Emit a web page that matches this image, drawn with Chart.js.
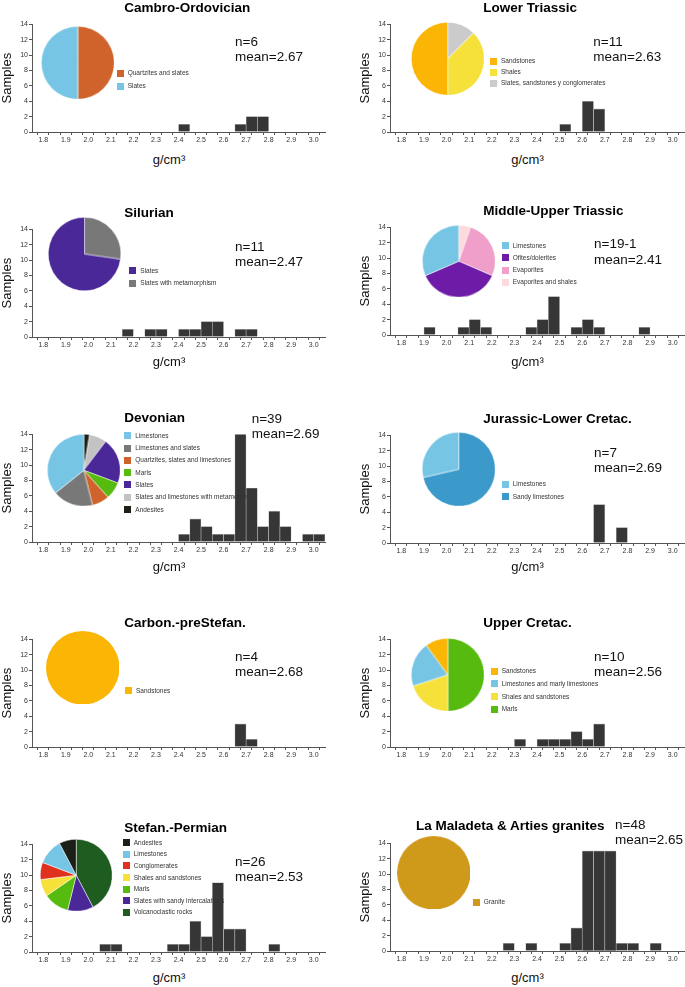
<!DOCTYPE html>
<html>
<head>
<meta charset="utf-8">
<script src="https://cdn.jsdelivr.net/npm/chart.js@4"></script>
<style>
  body { margin: 0; background: #fff; font-family: "Liberation Sans", Arial, sans-serif; }
  #fig { position: relative; width: 685px; height: 987px; overflow: hidden; }
  .abs { position: absolute; }
  .title { font-weight: bold; font-size: 13.5px; line-height: 16px; color: #000; white-space: nowrap; }
  .stats { font-size: 13.5px; line-height: 15.6px; color: #111; white-space: nowrap; }
  .xtitle { font-size: 13px; line-height: 16px; width: 80px; text-align: center; color: #111; }
  .leg { position: absolute; height: 8px; font-size: 6.5px; line-height: 8px; color: #333; white-space: nowrap; }
  .leg i { position: absolute; left: 0; top: 0.5px; width: 7px; height: 7px; }
  .leg span { position: absolute; left: 11px; top: 0; }
</style>
</head>
<body>
<div id="fig"></div>
<script>
// density bins (g/cm3), 0.05 wide
const binEdges = [1.75, 1.80, 1.85, 1.90, 1.95, 2.00, 2.05, 2.10, 2.15, 2.20, 2.25, 2.30, 2.35, 2.40,
                  2.45, 2.50, 2.55, 2.60, 2.65, 2.70, 2.75, 2.80, 2.85, 2.90, 2.95, 3.00, 3.05];
const tickLabels = ['1.8', '1.9', '2.0', '2.1', '2.2', '2.3', '2.4', '2.5', '2.6', '2.7', '2.8', '2.9', '3.0'];

// samples per bin (one count per bin above)
const cambroCounts      = [0,0,0,0,0, 0,0,0,0,0, 0,0,0,1,0, 0,0,0,1,2, 2,0,0,0,0, 0];
const lowerTriasCounts  = [0,0,0,0,0, 0,0,0,0,0, 0,0,0,0,0, 1,0,4,3,0, 0,0,0,0,0, 0];
const silurianCounts    = [0,0,0,0,0, 0,0,0,1,0, 1,1,0,1,1, 2,2,0,1,1, 0,0,0,0,0, 0];
const midUpTriasCounts  = [0,0,0,1,0, 0,1,2,1,0, 0,0,1,2,5, 0,1,2,1,0, 0,0,1,0,0, 0];
const devonianCounts    = [0,0,0,0,0, 0,0,0,0,0, 0,0,0,1,3, 2,1,1,14,7, 2,4,2,0,1, 1];
const jurassicCounts    = [0,0,0,0,0, 0,0,0,0,0, 0,0,0,0,0, 0,0,0,5,0, 2,0,0,0,0, 0];
const carbonCounts      = [0,0,0,0,0, 0,0,0,0,0, 0,0,0,0,0, 0,0,0,3,1, 0,0,0,0,0, 0];
const upCretacCounts    = [0,0,0,0,0, 0,0,0,0,0, 0,1,0,1,1, 1,2,1,3,0, 0,0,0,0,0, 0];
const stefanCounts      = [0,0,0,0,0, 0,1,1,0,0, 0,0,1,1,4, 2,9,3,3,0, 0,1,0,0,0, 0];
const maladetaCounts    = [0,0,0,0,0, 0,0,0,0,0, 1,0,1,0,0, 1,3,13,13,13, 1,1,0,1,0, 0];

// lithologies (pie slices, legend order)
const cambroRocks = ['Quartzites and slates', 'Slates'];
const cambroRockN = [3, 3];
const lowerTriasRocks = ['Sandstones', 'Shales', 'Slates, sandstones y conglomerates'];
const lowerTriasRockN = [4, 3, 1];
const silurianRocks = ['Slates', 'Slates with metamorphism'];
const silurianRockN = [8, 3];
const midUpTriasRocks = ['Limestones', 'Ofites/dolerites', 'Evaporites', 'Evaporites and shales'];
const midUpTriasRockN = [6, 7, 5, 1];
const devonianRocks = ['Limestones', 'Limestones and slates', 'Quartzites, slates and limestones', 'Marls',
                       'Slates', 'Slates and limestones with metamorph.', 'Andesites'];
const devonianRockN = [14, 7, 3, 3, 8, 3, 1];
const jurassicRocks = ['Limestones', 'Sandy limestones'];
const jurassicRockN = [2, 5];
const carbonRocks = ['Sandstones'];
const carbonRockN = [4];
const upCretacRocks = ['Sandstones', 'Limestones and marly limestones', 'Shales and sandstones', 'Marls'];
const upCretacRockN = [1, 2, 2, 5];
const stefanRocks = ['Andesites', 'Limestones', 'Conglomerates', 'Shales and sandstones', 'Marls',
                     'Slates with sandy intercalations', 'Volcanoclastic rocks'];
const stefanRockN = [2, 3, 2, 2, 3, 3, 11];
const maladetaRocks = ['Granite'];
const maladetaRockN = [48];

const panelTitles = ['Cambro-Ordovician', 'Lower Triassic', 'Silurian', 'Middle-Upper Triassic', 'Devonian',
                     'Jurassic-Lower Cretac.', 'Carbon.-preStefan.', 'Upper Cretac.', 'Stefan.-Permian',
                     'La Maladeta & Arties granites'];
const sampleSizes = ['6', '11', '11', '19-1', '39', '7', '4', '10', '26', '48'];
const meanDensity = ['2.67', '2.63', '2.47', '2.41', '2.69', '2.69', '2.68', '2.56', '2.53', '2.65'];

// colours
const C = {
  orange: '#d0632b', sky: '#76c5e5', amber: '#fab505', yellow: '#f5e13a', silver: '#cbcbcb',
  indigo: '#4a2898', grey: '#787878', violet: '#6e1ca8', pink: '#ef9fc9', blush: '#fddadd',
  green: '#56bb0e', black: '#1a1f17', blue: '#3b9ac9', red: '#e0301e', forest: '#1f5c1f', gold: '#cf9a1a'
};

const panels = [
  { counts: cambroCounts, rocks: cambroRocks, rockN: cambroRockN, colors: [C.orange, C.sky], cw: true,
    col: 0, top: 24, title: [124.3, 8.3], stats: [235, 41.7], pie: [77.3, 62.7, 36], leg: [116.7, 73, 13.3], xt: 160 },
  { counts: lowerTriasCounts, rocks: lowerTriasRocks, rockN: lowerTriasRockN, colors: [C.amber, C.yellow, C.silver],
    col: 1, top: 24, title: [483.3, 8.3], stats: [593.3, 41.7], pie: [447.3, 58.3, 36.5], leg: [490, 61, 11.2], xt: 160 },
  { counts: silurianCounts, rocks: silurianRocks, rockN: silurianRockN, colors: [C.indigo, C.grey],
    col: 0, top: 229, title: [124.3, 213.3], stats: [235, 246.7], pie: [84.3, 254, 36.3], leg: [129.3, 270.7, 12.7], xt: 362 },
  { counts: midUpTriasCounts, rocks: midUpTriasRocks, rockN: midUpTriasRockN, colors: [C.sky, C.violet, C.pink, C.blush],
    col: 1, top: 227, title: [483.3, 210.7], stats: [594, 244], pie: [458.3, 261, 36], leg: [501.7, 245.7, 12.2], xt: 362 },
  { counts: devonianCounts, rocks: devonianRocks, rockN: devonianRockN,
    colors: [C.sky, C.grey, C.orange, C.green, C.indigo, '#c3c3c3', C.black],
    col: 0, top: 434, title: [124.3, 418.3], stats: [251.7, 418.3], pie: [83.3, 470, 36], leg: [124.3, 435.7, 12.3], xt: 567 },
  { counts: jurassicCounts, rocks: jurassicRocks, rockN: jurassicRockN, colors: [C.sky, C.blue],
    col: 1, top: 435, title: [483.3, 419.3], stats: [594, 452.3], pie: [458.3, 469, 36.5], leg: [501.7, 484, 12.7], xt: 567 },
  { counts: carbonCounts, rocks: carbonRocks, rockN: carbonRockN, colors: [C.amber],
    col: 0, top: 639, title: [124.3, 623.3], stats: [235, 656.7], pie: [82.7, 667.3, 36.5], leg: [125, 690.7, 0], xt: null },
  { counts: upCretacCounts, rocks: upCretacRocks, rockN: upCretacRockN, colors: [C.amber, C.sky, C.yellow, C.green],
    col: 1, top: 639, title: [483.3, 623.3], stats: [594, 656.7], pie: [447.3, 674.3, 36], leg: [490.7, 671, 12.8], xt: null },
  { counts: stefanCounts, rocks: stefanRocks, rockN: stefanRockN,
    colors: [C.black, C.sky, C.red, C.yellow, C.green, C.indigo, C.forest],
    col: 0, top: 844, title: [124.3, 828.3], stats: [235, 861.7], pie: [76, 875, 36], leg: [122.7, 842.7, 11.6], xt: 978 },
  { counts: maladetaCounts, rocks: maladetaRocks, rockN: maladetaRockN, colors: [C.gold],
    col: 1, top: 843, title: [416, 826], stats: [615, 824.3], pie: [433.3, 872.7, 36], leg: [472.7, 902.3, 0], xt: 978 }
];

Chart.defaults.font.family = '"Liberation Sans", Arial, sans-serif';
const fig = document.getElementById('fig');
const PLOT_H = 108, PAD_TOP = 5, XAXIS_H = 18;

function addDiv(cls, x, y, html) {
  const d = document.createElement('div');
  d.className = 'abs ' + cls;
  d.style.left = x + 'px';
  d.style.top = y + 'px';
  d.innerHTML = html;
  fig.appendChild(d);
  return d;
}

function addCanvas(x, y, w, h) {
  const box = document.createElement('div');
  box.className = 'abs';
  Object.assign(box.style, { left: x + 'px', top: y + 'px', width: w + 'px', height: h + 'px' });
  const cv = document.createElement('canvas');
  box.appendChild(cv);
  fig.appendChild(box);
  return cv;
}

function tickText(v) {
  const hit = tickLabels.find(t => Math.abs(parseFloat(t) - v) < 1e-6);
  return hit || '';
}

panels.forEach((p, k) => {
  // histogram
  const left = p.col === 0 ? 0 : 358;
  const width = p.col === 0 ? 340 : 327;
  const padRight = p.col === 0 ? 15 : 1;
  const cv = addCanvas(left, p.top - PAD_TOP, width, PAD_TOP + PLOT_H + XAXIS_H);
  const bars = p.counts.map((c, i) => ({ x: (binEdges[i] + binEdges[i + 1]) / 2, y: c }));

  new Chart(cv, {
    type: 'bar',
    data: {
      datasets: [{
        data: bars,
        backgroundColor: '#363636',
        borderColor: '#c4c4c4',
        borderWidth: 0.6,
        barPercentage: 1,
        categoryPercentage: 1
      }]
    },
    options: {
      responsive: true,
      maintainAspectRatio: false,
      animation: false,
      layout: { padding: { top: PAD_TOP, right: padRight, left: 0, bottom: 0 } },
      plugins: { legend: { display: false }, tooltip: { enabled: false } },
      scales: {
        x: {
          type: 'linear',
          min: binEdges[0],
          max: binEdges[binEdges.length - 1],
          offset: false,
          afterBuildTicks: s => { s.ticks = binEdges.map(v => ({ value: v })); },
          afterFit: s => { s.height = XAXIS_H; },
          ticks: { autoSkip: false, maxRotation: 0, padding: 1, color: '#333', font: { size: 7 }, callback: v => tickText(v) },
          grid: { drawOnChartArea: false, drawTicks: true, tickLength: 3, color: '#555' },
          border: { color: '#555', width: 1 }
        },
        y: {
          min: 0,
          max: 14,
          ticks: { stepSize: 2, padding: 1, color: '#333', font: { size: 7 } },
          grid: { drawOnChartArea: false, drawTicks: true, tickLength: 3, color: '#555' },
          border: { color: '#555', width: 1 },
          title: { display: true, text: 'Samples', color: '#111', font: { size: 13 }, padding: 0 },
          afterFit: s => { s.width = 32; }
        }
      }
    }
  });

  // lithology pie
  const [cx, cy, r] = p.pie;
  const size = 2 * r + 0.5;
  const pc = addCanvas(cx - size / 2, cy - size / 2, size, size);
  const order = p.cw ? p.rockN.map((_, i) => i) : p.rockN.map((_, i) => p.rockN.length - 1 - i);
  new Chart(pc, {
    type: 'pie',
    data: {
      labels: order.map(i => p.rocks[i]),
      datasets: [{
        data: order.map(i => p.rockN[i]),
        backgroundColor: order.map(i => p.colors[i]),
        borderColor: '#fff',
        borderWidth: p.rockN.length > 1 ? 0.5 : 0
      }]
    },
    options: {
      responsive: true,
      maintainAspectRatio: false,
      animation: false,
      layout: { padding: 0 },
      plugins: { legend: { display: false }, tooltip: { enabled: false } }
    }
  });

  // legend
  const [lx, ly, gap] = p.leg;
  p.rocks.forEach((name, i) => {
    const d = document.createElement('div');
    d.className = 'leg';
    d.style.left = lx + 'px';
    d.style.top = (ly + i * gap - 4) + 'px';
    d.innerHTML = '<i style="background:' + p.colors[i] + '"></i><span>' + name + '</span>';
    fig.appendChild(d);
  });

  // texts
  addDiv('title', p.title[0], p.title[1] - 8, panelTitles[k].replace('&', '&amp;'));
  addDiv('stats', p.stats[0], p.stats[1] - 7.8, 'n=' + sampleSizes[k] + '<br>mean=' + meanDensity[k]);
  if (p.xt !== null) {
    const mid = p.col === 0 ? 169 : 527.5;
    addDiv('xtitle', mid - 40, p.xt - 8, 'g/cm³');
  }
});
</script>
</body>
</html>
